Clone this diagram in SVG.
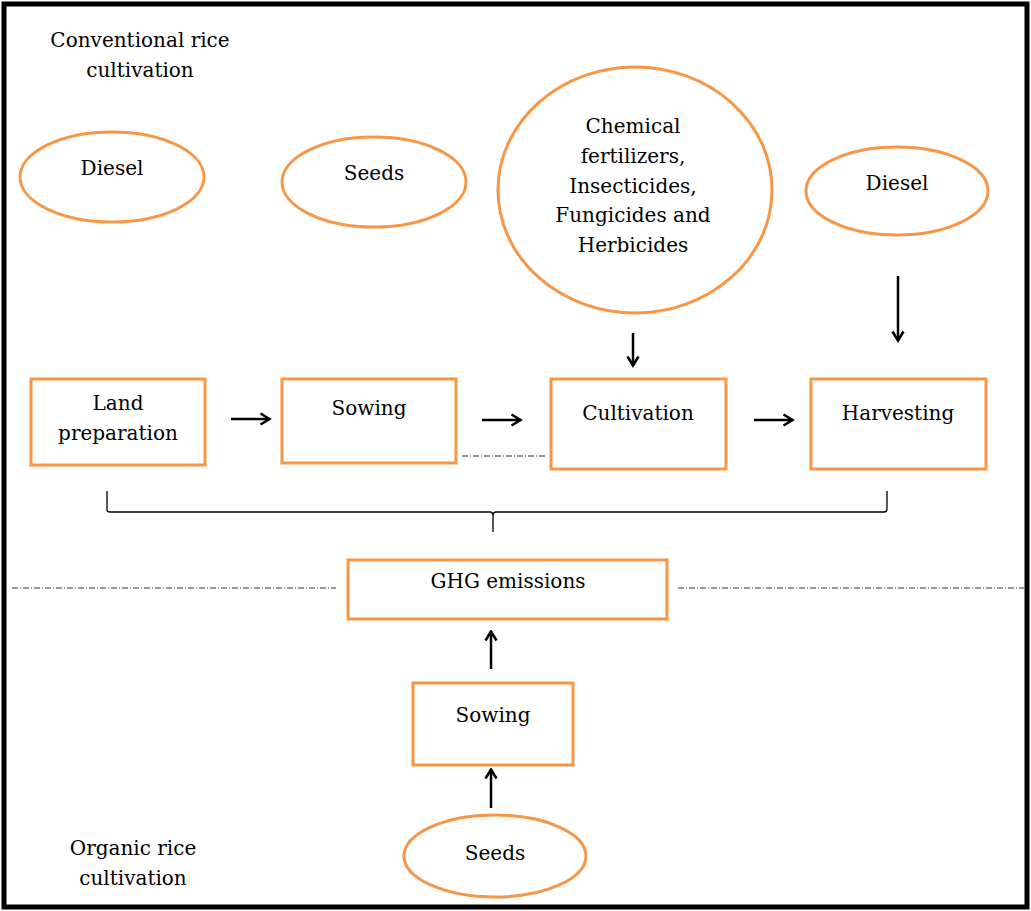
<svg xmlns="http://www.w3.org/2000/svg" width="1031" height="911" viewBox="0 0 1031 911">
<style>
.n{fill:#fff;stroke:#F79646;stroke-width:3}
.t{font-family:"DejaVu Serif","Liberation Serif",serif;font-size:20px;fill:#000;text-anchor:middle}
.a{stroke:#000;stroke-width:2.5;fill:none}
.d{stroke:#777;stroke-width:1.3;fill:none;stroke-dasharray:6 2 1 2}
</style>
<defs>
<marker id="ah" viewBox="0 0 14 14" refX="12.5" refY="7" markerWidth="14" markerHeight="14" markerUnits="userSpaceOnUse" orient="auto">
<path d="M3,1.5 L12,7 L3,12.5" fill="none" stroke="#000" stroke-width="2.5"/>
</marker>
</defs>
<rect x="0" y="0" width="1031" height="911" fill="#fff"/>
<rect x="4" y="4" width="1023" height="903" fill="none" stroke="#000" stroke-width="5"/>
<g id="title-conv"><text class="t" x="140" y="47">Conventional rice</text><text class="t" x="140" y="77">cultivation</text></g>
<g id="title-org"><text class="t" x="133" y="855">Organic rice</text><text class="t" x="133" y="885">cultivation</text></g>
<g id="diesel1"><ellipse class="n" cx="112" cy="177" rx="92" ry="45"/><text class="t" x="112" y="175">Diesel</text></g>
<g id="seeds1"><ellipse class="n" cx="374" cy="182" rx="92" ry="45"/><text class="t" x="374" y="180">Seeds</text></g>
<g id="chem"><ellipse class="n" cx="635" cy="190" rx="137" ry="123"/>
<text class="t" x="633" y="133">Chemical</text><text class="t" x="633" y="163">fertilizers,</text><text class="t" x="633" y="193">Insecticides,</text><text class="t" x="633" y="222">Fungicides and</text><text class="t" x="633" y="252">Herbicides</text></g>
<g id="diesel2"><ellipse class="n" cx="897" cy="191" rx="91" ry="44"/><text class="t" x="897" y="190">Diesel</text></g>
<g id="land"><rect class="n" x="31" y="379" width="174" height="86"/><text class="t" x="118" y="410">Land</text><text class="t" x="118" y="440">preparation</text></g>
<g id="sowing1"><rect class="n" x="282" y="379" width="174" height="84"/><text class="t" x="369" y="415">Sowing</text></g>
<g id="cultivation"><rect class="n" x="551" y="379" width="175" height="90"/><text class="t" x="638" y="420">Cultivation</text></g>
<g id="harvesting"><rect class="n" x="811" y="379" width="175" height="90"/><text class="t" x="898" y="420">Harvesting</text></g>
<g id="ghg"><rect class="n" x="348" y="560" width="319" height="59"/><text class="t" x="508" y="588">GHG emissions</text></g>
<g id="sowing2"><rect class="n" x="413" y="683" width="160" height="82"/><text class="t" x="493" y="722">Sowing</text></g>
<g id="seeds2"><ellipse class="n" cx="495" cy="856" rx="91" ry="41"/><text class="t" x="495" y="860">Seeds</text></g>
<g id="connectors">
<line class="a" x1="633" y1="333" x2="633" y2="366" marker-end="url(#ah)"/>
<line class="a" x1="898" y1="276" x2="898" y2="341" marker-end="url(#ah)"/>
<line class="a" x1="231" y1="419" x2="270" y2="419" marker-end="url(#ah)"/>
<line class="a" x1="482" y1="420" x2="521" y2="420" marker-end="url(#ah)"/>
<line class="a" x1="754" y1="420" x2="793" y2="420" marker-end="url(#ah)"/>
<path d="M107,491 L107,510 Q107,512 110,512 L490,512 Q493,512 493,516 L493,532 M493,516 Q493,512 496,512 L884,512 Q887,512 887,509 L887,491" fill="none" stroke="#000" stroke-width="1.3"/>
<line class="a" x1="491" y1="669" x2="491" y2="631" marker-end="url(#ah)"/>
<line class="a" x1="491" y1="808" x2="491" y2="769" marker-end="url(#ah)"/>
<line class="d" x1="12" y1="588" x2="336" y2="588"/>
<line class="d" x1="678" y1="588" x2="1027" y2="588"/>
<line class="d" x1="462" y1="456" x2="545" y2="456" stroke="#ccc"/>
</g>
</svg>
